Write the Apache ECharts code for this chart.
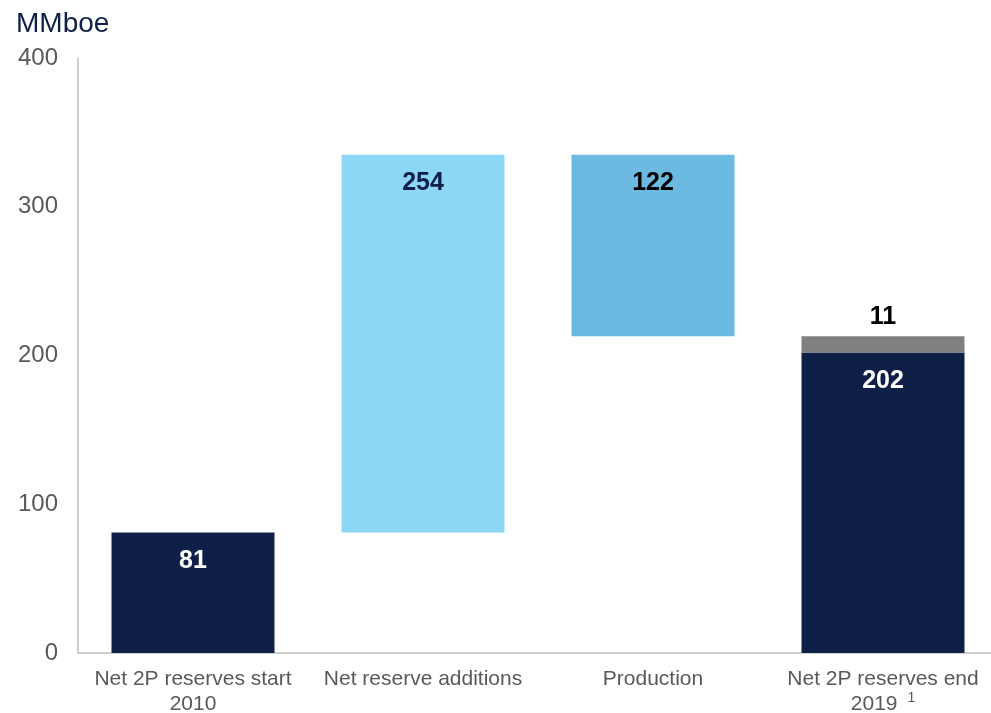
<!DOCTYPE html>
<html>
<head>
<meta charset="utf-8">
<script src="https://cdn.jsdelivr.net/npm/echarts@6/dist/echarts.min.js"></script>
<style>html,body{margin:0;padding:0;background:#fff}#c{width:991px;height:713px}</style>
</head>
<body>
<div id="c"></div>
<script>
var categories = ['Net 2P reserves start\n2010', 'Net reserve additions', 'Production', 'Net 2P reserves end\n2019 {sup|1}'];
var startValue = 81;
var additions = 254;
var production = 122;
var endValue = 202;
var adjustment = 11;
var yTicks = [0, 100, 200, 300, 400];

var barColors = ['#0e2048', '#8dd7f6', '#6cbae1', '#0e2048'];
var labelColors = ['#ffffff', '#0e2048', '#000000', '#ffffff'];

var afterAdd = startValue + additions;
var baseData = [0, startValue, afterAdd - production, 0];
var mainData = [startValue, additions, production, endValue];
var adjData = ['-', '-', '-', adjustment];

var FF = 'Liberation Sans, Arial, sans-serif';
var chart = echarts.init(document.getElementById('c'), null, {renderer: 'canvas'});
chart.setOption({
  animation: false,
  title: {
    text: 'MMboe', left: 11, top: 5,
    textStyle: {color: '#0e2048', fontSize: 28, fontWeight: 'normal', fontFamily: FF}
  },
  grid: {left: 78, width: 920, top: 58, bottom: 60, containLabel: false, outerBoundsMode: 'none'},
  xAxis: {
    type: 'category',
    data: categories,
    axisLine: {lineStyle: {color: '#d0d0cc', width: 2}},
    axisTick: {show: false},
    axisLabel: {
      color: '#595959', fontSize: 21, lineHeight: 25, margin: 14,
      fontFamily: FF, interval: 0,
      rich: {sup: {fontSize: 14, color: '#595959', padding: [0, 0, 12, 4], fontFamily: FF}}
    }
  },
  yAxis: {
    type: 'value', min: yTicks[0], max: yTicks[yTicks.length - 1], interval: 100,
    axisLine: {show: true, lineStyle: {color: '#d0d0cc', width: 2}},
    axisTick: {show: false},
    splitLine: {show: false},
    axisLabel: {color: '#595959', fontSize: 24, margin: 20, fontFamily: FF}
  },
  series: [
    {
      type: 'bar', stack: 'w', data: baseData, barWidth: 163,
      itemStyle: {color: 'transparent'}, silent: true
    },
    {
      type: 'bar', stack: 'w', barWidth: 163,
      data: mainData.map(function (v, i) {
        return {value: v, itemStyle: {color: barColors[i]}, label: {color: labelColors[i]}};
      }),
      label: {
        show: true, position: 'insideTop', distance: 16,
        fontSize: 25, fontWeight: 'bold', fontFamily: FF
      }
    },
    {
      type: 'bar', stack: 'w', barWidth: 163, data: adjData,
      itemStyle: {color: '#808080'},
      label: {
        show: true, position: 'top', distance: 7, color: '#000000',
        fontSize: 25, fontWeight: 'bold', fontFamily: FF
      }
    }
  ]
});
</script>
</body>
</html>
